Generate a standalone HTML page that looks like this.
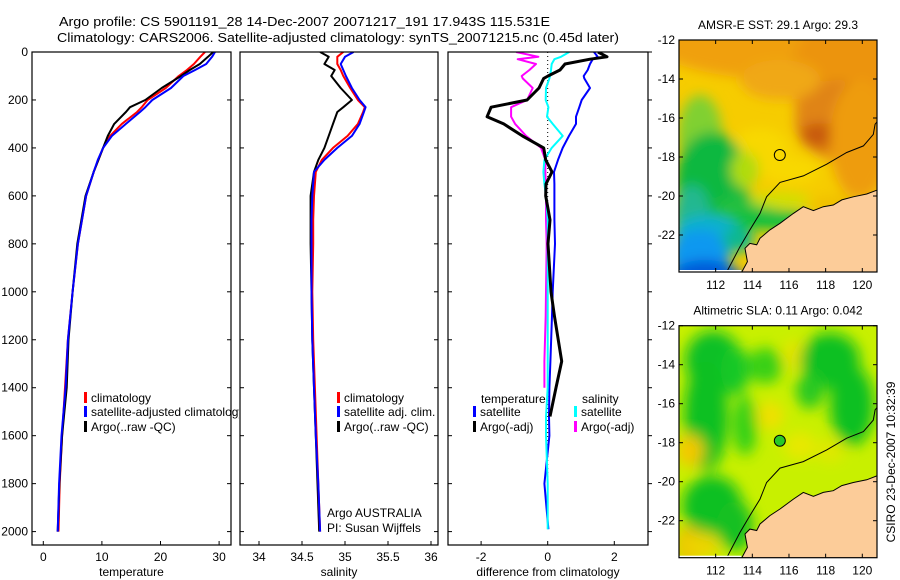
<!DOCTYPE html>
<html><head><meta charset="utf-8">
<style>
html,body{margin:0;padding:0;background:#fff;}
svg{display:block;font-family:"Liberation Sans",sans-serif;}
text{font-size:12px;fill:#000;}
</style></head>
<body>
<svg id="fig" width="900" height="580" viewBox="0 0 900 580" xmlns="http://www.w3.org/2000/svg">
<defs>
  <clipPath id="clipP1"><rect x="32" y="52" width="199" height="493"/></clipPath>
  <clipPath id="clipP2"><rect x="240" y="52" width="198" height="493"/></clipPath>
  <clipPath id="clipP3"><rect x="448" y="52" width="200" height="493"/></clipPath>
  <clipPath id="clipLeg1"><rect x="32" y="380" width="207" height="60"/></clipPath>
  <clipPath id="clipM1"><rect x="679" y="40" width="198" height="232"/></clipPath>
  <clipPath id="clipM2"><rect x="679" y="325.7" width="198" height="232"/></clipPath>
  <filter id="blur1" x="-20%" y="-20%" width="140%" height="140%"><feGaussianBlur stdDeviation="6"/></filter>
  <filter id="blur2" x="-20%" y="-20%" width="140%" height="140%"><feGaussianBlur stdDeviation="7"/></filter>
</defs>

<text x="59" y="26" textLength="491" lengthAdjust="spacingAndGlyphs" style="font-size:13px">Argo profile: CS 5901191_28 14-Dec-2007 20071217_191 17.943S 115.531E</text>
<text x="57" y="42" textLength="562" lengthAdjust="spacingAndGlyphs" style="font-size:13px">Climatology: CARS2006. Satellite-adjusted climatology: synTS_20071215.nc (0.45d later)</text>

<g id="p1"></g>
<g id="p2"></g>
<g id="p3"></g>
<g id="m1"></g>
<g id="m2"></g>

<text transform="translate(895,462) rotate(-90)" text-anchor="middle">CSIRO 23-Dec-2007 10:32:39</text>
</svg>
<script>
// ---------- profile data ----------
const depths = [0,20,50,75,100,150,200,230,250,300,350,400,450,500,600,700,800,1000,1200,1400,1600,1800,2000];
const tempClim = [27.6,26.8,25.7,24.5,23.1,20.9,17.8,16.8,16.0,13.4,11.4,10.2,9.4,8.6,7.3,6.6,5.9,5.0,4.2,3.7,3.2,2.8,2.6];
const tempSat  = [29.3,28.8,27.8,25.9,23.9,21.8,18.6,17.4,16.5,14.1,11.7,10.2,9.3,8.6,7.3,6.6,5.9,5.0,4.2,3.8,3.1,2.7,2.45];
const tempArgo = [29.0,28.1,26.7,25.0,23.5,20.2,17.4,14.8,14.1,12.1,11.0,10.2,9.4,8.6,7.2,6.5,5.8,5.0,4.3,4.0,3.2,2.75,2.45];
const salClim = [34.98,34.91,34.91,34.95,34.98,35.06,35.15,35.23,35.21,35.15,35.03,34.86,34.73,34.66,34.64,34.63,34.63,34.62,34.63,34.65,34.67,34.69,34.71];
const salSat  = [35.10,35.00,34.95,34.98,35.01,35.08,35.17,35.24,35.22,35.17,35.08,34.91,34.76,34.64,34.62,34.61,34.61,34.61,34.62,34.64,34.66,34.69,34.71];
const salArgo = [34.71,34.81,34.76,34.88,34.84,34.95,35.08,34.98,34.91,34.86,34.81,34.76,34.69,34.64,34.60,34.60,34.60,34.61,34.62,34.64,34.66,34.68,34.70];
const diffDepths = [0,20,30,50,75,100,110,150,200,230,270,300,350,400,450,500,550,600,700,800,1000,1100,1290,1400,1520,1600,1800,1990];
const diffTempSat  = [1.39,1.5,1.35,1.27,1.2,1.08,1.1,1.27,1.02,0.95,0.85,0.85,0.64,0.45,0.31,0.19,0.2,0.2,0.2,0.22,0.15,0.13,0.08,0.05,0.04,0.05,-0.1,0.02];
const diffTempArgo = [1.51,1.78,1.27,0.52,0.37,0.01,-0.12,-0.26,-0.62,-1.7,-1.82,-1.32,-0.76,-0.12,-0.06,0.13,-0.05,-0.06,0.07,0.01,0.1,0.2,0.42,0.25,0.07,null,null,null];
const diffSalSat  = [0.65,0.4,0.2,0.12,0.1,0.07,0.05,-0.05,-0.06,0.02,-0.02,0.15,0.45,0.12,-0.1,-0.13,-0.1,-0.05,0,0,0,0,0,0,-0.05,-0.05,0,0];
const diffSalArgo = [-0.95,-0.28,-0.9,-0.35,-0.55,-0.78,-0.75,-0.45,-0.62,-1.1,-1.1,-0.98,-0.65,-0.2,-0.07,-0.07,-0.06,-0.05,-0.05,-0.03,-0.05,-0.06,-0.1,-0.1,null,null,null,null];
const depthTicks = [0,200,400,600,800,1000,1200,1400,1600,1800,2000];
const tempTicks = [0,10,20,30];
const salTicks = [34,34.5,35,35.5,36];
const salTickLabels = ["34","34.5","35","35.5","36"];
const diffTicks = [-2,0,2];
// ---------- map data ----------
const coastLon = [113.42,113.73,113.6,113.87,114.24,114.42,114.96,115.51,116.24,116.78,117.33,117.87,118.42,118.88,119.51,120.24,120.82];
const coastLat = [-23.91,-23.37,-22.68,-22.43,-22.5,-22.17,-21.74,-21.4,-20.89,-20.55,-20.75,-20.55,-20.46,-20.2,-20.04,-19.9,-19.69];
const shelfLon = [112.6,113.33,113.87,114.42,114.78,115.51,116.78,118.06,119.15,120.06,120.6,120.7,120.8];
const shelfLat = [-23.9,-22.6,-21.74,-20.89,-20.04,-19.3,-18.97,-18.37,-17.77,-17.43,-16.84,-16.32,-16.2];
const mapLonTicks = [112,114,116,118,120];
const mapLatTicks = [-12,-14,-16,-18,-20,-22];
const argoLon = 115.5, argoLat = -17.9;

const NS='http://www.w3.org/2000/svg';
function mk(parent,tag,attrs){const e=document.createElementNS(NS,tag);for(const k in attrs)e.setAttribute(k,attrs[k]);parent.appendChild(e);return e;}

const PY0=52, PY1=545;
const yD = d => PY0 + d*0.2398;
const xT = v => 43.3 + 5.86*v;
const xS = v => 259 + 86*(v-34);
const xDf = v => 547.7 + 33.3*v;

function drawLine(g,xs,ds,xf,color,w,name,clip){
  let d='',pen=false;
  for(let i=0;i<ds.length;i++){
    if(xs[i]===null){pen=false;continue;}
    d+=(pen?'L':'M')+xf(xs[i]).toFixed(1)+','+yD(ds[i]).toFixed(1);pen=true;
  }
  const p=mk(g,'path',{d:d,fill:'none',stroke:color,'stroke-width':w,'stroke-linejoin':'round','clip-path':'url(#'+clip+')'});
  
  
}
function frame(g,x0,x1,xticks,xf,labels,title,leftLabels,rightOut){
  const r=mk(g,'rect',{x:x0,y:PY0,width:x1-x0,height:PY1-PY0,fill:'#fff',stroke:'none'});
  
  
  return function(){
    mk(g,'rect',{x:x0,y:PY0,width:x1-x0,height:PY1-PY0,fill:'none',stroke:'#000','stroke-width':1.2});
    depthTicks.forEach(d=>{
      const y=yD(d);
      mk(g,'line',{x1:x0,x2:x0+4,y1:y,y2:y,stroke:'#000'});
      if(rightOut) mk(g,'line',{x1:x1,x2:x1+4,y1:y,y2:y,stroke:'#000'});
      else mk(g,'line',{x1:x1-4,x2:x1,y1:y,y2:y,stroke:'#000'});
      if(leftLabels){
        const t=mk(g,'text',{x:x0-4,y:y+4,'text-anchor':'end'});t.textContent=d;
        
        
      }
    });
    xticks.forEach((v,i)=>{
      const x=xf(v);
      mk(g,'line',{x1:x,x2:x,y1:PY1,y2:PY1-4,stroke:'#000'});
      const t=mk(g,'text',{x:x,y:561,'text-anchor':'middle'});t.textContent=labels[i];
      
      
    });
    const at=mk(g,'text',{x:(x0+x1)/2,y:576,'text-anchor':'middle'});at.textContent=title;
    
    
  };
}
function legendItem(g,x,y,color,label,clip){
  const it=mk(g,'g',{});
  
  
  if(color) mk(it,'rect',{x:x,y:y-10,width:3,height:11,fill:color});
  const t=mk(it,'text',{x:x+7,y:y});t.textContent=label;
  if(clip) it.setAttribute('clip-path','url(#'+clip+')');
}

// Panel 1
const g1=document.getElementById('p1');
const f1=frame(g1,32,231,tempTicks,xT,tempTicks.map(String),'temperature',true,false);
drawLine(g1,tempClim,depths,xT,'#ff0000',2,'temp-climatology-line','clipP1');
drawLine(g1,tempArgo,depths,xT,'#000000',2,'temp-argo-line','clipP1');
drawLine(g1,tempSat,depths,xT,'#0000ff',2,'temp-satellite-line','clipP1');
f1();
legendItem(g1,84,402,'#ff0000','climatology','clipLeg1');
legendItem(g1,84,416,'#0000ff','satellite-adjusted climatology','clipLeg1');
legendItem(g1,84,431,'#000000','Argo(..raw -QC)','clipLeg1');

// Panel 2
const g2=document.getElementById('p2');
const f2=frame(g2,240,438,salTicks,xS,salTickLabels,'salinity',false,false);
drawLine(g2,salArgo,depths,xS,'#000000',2,'sal-argo-line','clipP2');
drawLine(g2,salClim,depths,xS,'#ff0000',2,'sal-climatology-line','clipP2');
drawLine(g2,salSat,depths,xS,'#0000ff',2,'sal-satellite-line','clipP2');
f2();
legendItem(g2,337,402,'#ff0000','climatology');
legendItem(g2,337,416,'#0000ff','satellite adj. clim.');
legendItem(g2,337,431,'#000000','Argo(..raw -QC)');
legendItem(g2,320,517,null,'Argo AUSTRALIA');
legendItem(g2,320,532,null,'PI: Susan Wijffels');

// Panel 3
const g3=document.getElementById('p3');
const f3=frame(g3,448,648,diffTicks,xDf,diffTicks.map(String),'difference from climatology',false,true);
mk(g3,'line',{x1:xDf(0),x2:xDf(0),y1:yD(0),y2:yD(2000),stroke:'#000','stroke-dasharray':'1,3','stroke-width':1});
drawLine(g3,diffSalArgo,diffDepths,xDf,'#ff00ff',2,'sal-diff-argo-line','clipP3');
drawLine(g3,diffTempSat,diffDepths,xDf,'#0000ff',2,'temp-diff-satellite-line','clipP3');
drawLine(g3,diffSalSat,diffDepths,xDf,'#00ffff',2,'sal-diff-satellite-line','clipP3');
drawLine(g3,diffTempArgo,diffDepths,xDf,'#000000',3,'temp-diff-argo-line','clipP3');
f3();
legendItem(g3,474,403,null,'temperature');
legendItem(g3,473,416,'#0000ff','satellite');
legendItem(g3,473,431,'#000000','Argo(-adj)');
legendItem(g3,575,403,null,'salinity');
legendItem(g3,574,416,'#00ffff','satellite');
legendItem(g3,574,431,'#ff00ff','Argo(-adj)');

// Maps
const MX0=679, MW=198, MH=232;
const mxL = lon => MX0 + (lon-110)*18.33;
function drawMap(g,top,clip,blobs,base,title,dotFill){
  const myL = lat => top + (-12-lat)*19.5;
  const bg=mk(g,'g',{'clip-path':'url(#'+clip+')'});
  mk(bg,'rect',{x:MX0,y:top,width:MW,height:MH,fill:base});
  const bl=mk(bg,'g',{filter:'url(#'+(clip==='clipM1'?'blur1':'blur2')+')'});
  blobs.forEach(b=>{
    const e=mk(bl,'ellipse',{cx:b[0],cy:top+b[1],rx:b[2],ry:b[3],fill:b[4]});
    
    
  });
  let d='M'+mxL(coastLon[0])+','+(top+MH+2);
  coastLon.forEach((lo,i)=>{d+='L'+mxL(lo).toFixed(1)+','+myL(coastLat[i]).toFixed(1);});
  d+='L'+(MX0+MW+2)+','+myL(coastLat[coastLat.length-1]).toFixed(1)+'L'+(MX0+MW+2)+','+(top+MH+2)+'Z';
  const land=mk(bg,'path',{d:d,fill:'#fccc99',stroke:'#000','stroke-width':1});
  
  
  let s='';
  shelfLon.forEach((lo,i)=>{s+=(i?'L':'M')+mxL(lo).toFixed(1)+','+myL(shelfLat[i]).toFixed(1);});
  const sh=mk(bg,'path',{d:s,fill:'none',stroke:'#000','stroke-width':1});
  
  
  mk(bg,'rect',{x:MX0,y:top+MH-2,width:mxL(113.4)-MX0,height:2,fill:'#fff'});
  const c=mk(g,'circle',{cx:mxL(argoLon),cy:myL(argoLat),r:5.5,fill:dotFill,stroke:'#000','stroke-width':1});
  
  
  mk(g,'rect',{x:MX0,y:top,width:MW,height:MH,fill:'none',stroke:'#000','stroke-width':1.2});
  mapLonTicks.forEach(lo=>{
    const x=mxL(lo);
    mk(g,'line',{x1:x,x2:x,y1:top+MH,y2:top+MH-4,stroke:'#000'});
    mk(g,'line',{x1:x,x2:x,y1:top,y2:top+4,stroke:'#000'});
    const t=mk(g,'text',{x:x,y:top+MH+17,'text-anchor':'middle'});t.textContent=lo;
    
    
  });
  mapLatTicks.forEach(la=>{
    const y=myL(la);
    mk(g,'line',{x1:MX0,x2:MX0+4,y1:y,y2:y,stroke:'#000'});
    mk(g,'line',{x1:MX0+MW-4,x2:MX0+MW,y1:y,y2:y,stroke:'#000'});
    const t=mk(g,'text',{x:MX0-4,y:y+4,'text-anchor':'end'});t.textContent=la;
    
    
  });
  const tt=mk(g,'text',{x:MX0+MW/2,y:top-11,'text-anchor':'middle'});tt.textContent=title;
  
  
}
const sstBlobs=[
  [790,0,140,40,'#f0a010'],[850,40,60,70,'#ec9410'],[840,80,45,40,'#e08418'],[820,95,20,12,'#c85a10'],
  [860,100,30,60,'#ee9c10'],[780,40,40,20,'#f0a818'],[760,110,30,22,'#f8d800'],[790,130,30,14,'#f8d800'],
  [700,95,22,40,'#80d030'],[712,140,36,48,'#10b840'],[692,175,18,30,'#20b890'],
  [745,172,30,18,'#20c040'],[775,180,40,10,'#10c040'],[708,195,34,20,'#10b0d0'],
  [700,215,30,25,'#0898f0'],[705,245,40,25,'#0058d8'],[700,265,34,16,'#0020a0'],[738,200,16,12,'#10b890'],
  [745,130,14,18,'#b0dc10'],[780,160,30,8,'#d0e000'],[840,165,30,10,'#f0c000']
];
const slaBlobs=[
  [713,35,28,30,'#10c028'],[706,90,22,55,'#08c020'],[735,45,14,25,'#18c828'],
  [765,40,18,18,'#38d018'],[795,30,12,15,'#e8e400'],[770,90,14,14,'#f0e000'],
  [830,35,30,28,'#08c020'],[852,80,22,40,'#08c020'],[810,65,14,18,'#28c820'],
  [690,125,14,16,'#f4c800'],[712,180,30,30,'#08c020'],[745,100,12,30,'#30d018'],
  [735,200,18,25,'#18c020'],[690,220,14,18,'#f4a800'],[700,220,20,14,'#ecd400'],
  [800,120,16,14,'#e8e800'],[830,125,14,12,'#e0e800']
];
drawMap(document.getElementById('m1'),40,'clipM1',sstBlobs,'#f6cc00','AMSR-E SST: 29.1 Argo: 29.3','none');
drawMap(document.getElementById('m2'),325.7,'clipM2',slaBlobs,'#c8f000','Altimetric SLA: 0.11 Argo: 0.042','#28c828');
</script>
</body></html>
